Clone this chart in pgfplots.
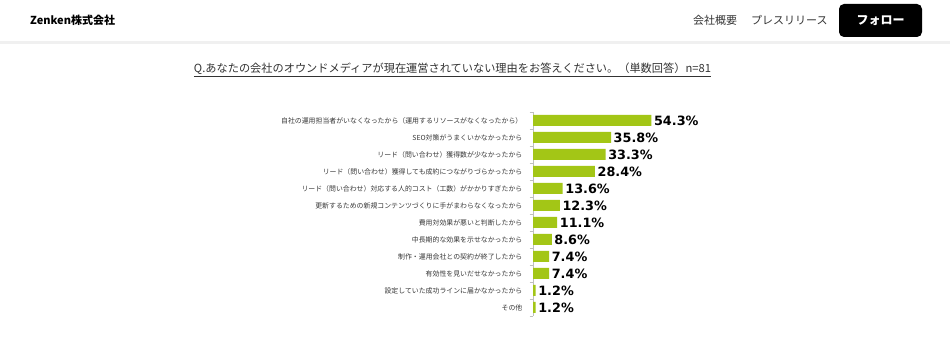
\documentclass[border=0pt]{standalone}
\usepackage{fontspec}
\setmainfont{Noto Sans CJK JP}
\newfontfamily\dejab{DejaVu Sans}[BoldFont={DejaVu Sans Bold}]
\usepackage{pgfplots}
\pgfplotsset{compat=1.18}
\definecolor{bargreen}{RGB}{163,198,22}
\definecolor{txt}{RGB}{51,51,51}
\definecolor{lbl}{RGB}{55,55,55}
\definecolor{axgray}{RGB}{191,191,191}
\definecolor{sep}{RGB}{240,240,240}
\begin{document}
\begin{tikzpicture}[x=1pt,y=1pt]
\path[use as bounding box, fill=white] (0,0) rectangle (950,347);
% header
\node[anchor=west, inner sep=0pt, text=black] at (30,327) {\fontsize{11}{11}\selectfont\bfseries Zenken株式会社};
\node[anchor=west, inner sep=0pt, text=txt] at (693,327) {\fontsize{11}{11}\selectfont 会社概要};
\node[anchor=west, inner sep=0pt, text=txt] at (751,327) {\fontsize{11}{11}\selectfont プレスリリース};
\fill[black, rounded corners=5pt] (839,343) rectangle (922,310);
\node[inner sep=0pt, text=white] at (880.5,326.5) {\fontsize{12}{12}\selectfont\bfseries フォロー};
\fill[sep] (0,303) rectangle (950,305.5);
% title
\node[inner sep=0pt, text=txt] at (452.5,277) {\fontsize{11.2}{12}\selectfont\underline{Q.あなたの会社のオウンドメディアが現在運営されていない理由をお答えください。（単数回答）n=81}};
\begin{axis}[
  at={(533pt,235pt)}, anchor=north west,
  scale only axis, width=218pt, height=204pt,
  xbar, bar width=11pt,
  xmin=0, xmax=100, ymin=-0.5, ymax=11.5, y dir=reverse,
  axis x line=none, axis y line*=left,
  axis line style={axgray, line width=0.8pt},
  ytick={0,...,11},
  major tick length=0pt,
  minor ytick={-0.5,0.5,...,11.5},
  minor tick length=3.5pt,
  tick align=outside,
  minor tick style={axgray, line width=0.8pt},
  yticklabels={
    {自社の運用担当者がいなくなったから（運用するリソースがなくなったから）},
    {SEO対策がうまくいかなかったから},
    {リード（問い合わせ）獲得数が少なかったから},
    {リード（問い合わせ）獲得しても成約につながりづらかったから},
    {リード（問い合わせ）対応する人的コスト（工数）がかかりすぎたから},
    {更新するための新規コンテンツづくりに手がまわらなくなったから},
    {費用対効果が悪いと判断したから},
    {中長期的な効果を示せなかったから},
    {制作・運用会社との契約が終了したから},
    {有効性を見いだせなかったから},
    {設定していた成功ラインに届かなかったから},
    {その他}},
  yticklabel style={font=\fontsize{6.9}{7}\selectfont, text=lbl, inner sep=0pt, xshift=-10.5pt},
  /pgf/number format/assume math mode=true,
  point meta=x,
  nodes near coords={\pgfmathprintnumber[fixed,fixed zerofill,precision=1]{\pgfplotspointmeta}\%},
  every node near coord/.append style={anchor=west, inner sep=0pt, xshift=2.5pt, text=black, font=\dejab\bfseries\fontsize{12.8}{13}\selectfont},
  clip=false,
]
\addplot[fill=bargreen, draw=none] coordinates {
 (54.3,0) (35.8,1) (33.3,2) (28.4,3) (13.6,4) (12.3,5)
 (11.1,6) (8.6,7) (7.4,8) (7.4,9) (1.2,10) (1.2,11)
};
\end{axis}
\end{tikzpicture}
\end{document}
